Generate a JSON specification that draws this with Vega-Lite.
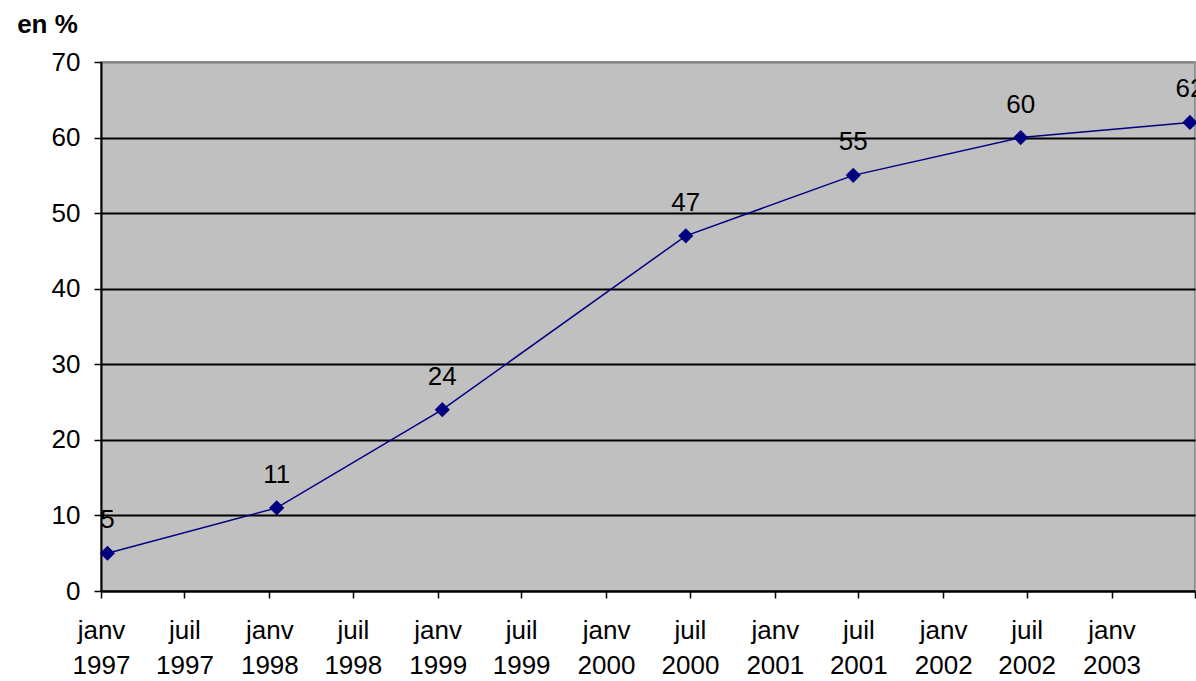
{
  "$schema": "https://vega.github.io/schema/vega-lite/v6.json",
  "width": 1094,
  "height": 529,
  "autosize": "none",
  "padding": {"left": 101, "top": 62, "right": 1, "bottom": 90},
  "background": "white",
  "config": {
    "view": {"fill": "#C0C0C0", "stroke": "#808080", "strokeWidth": 1.5},
    "font": "Liberation Sans"
  },
  "data": {
    "values": [
      {"date": "1997-01-15T00:00:00", "pct": 5},
      {"date": "1998-01-17T00:00:00", "pct": 11},
      {"date": "1999-01-11T00:00:00", "pct": 24},
      {"date": "2000-06-22T00:00:00", "pct": 47},
      {"date": "2001-06-20T00:00:00", "pct": 55},
      {"date": "2002-06-18T00:00:00", "pct": 60},
      {"date": "2003-06-20T00:00:00", "pct": 62}
    ]
  },
  "encoding": {
    "x": {
      "field": "date",
      "type": "temporal",
      "scale": {"domain": [{"year": 1997, "month": 1, "date": 1}, {"year": 2003, "month": 7, "date": 1}]},
      "axis": {
        "title": null,
        "grid": false,
        "values": [
          {"year": 1997, "month": 1, "date": 1}, {"year": 1997, "month": 7, "date": 1},
          {"year": 1998, "month": 1, "date": 1}, {"year": 1998, "month": 7, "date": 1},
          {"year": 1999, "month": 1, "date": 1}, {"year": 1999, "month": 7, "date": 1},
          {"year": 2000, "month": 1, "date": 1}, {"year": 2000, "month": 7, "date": 1},
          {"year": 2001, "month": 1, "date": 1}, {"year": 2001, "month": 7, "date": 1},
          {"year": 2002, "month": 1, "date": 1}, {"year": 2002, "month": 7, "date": 1},
          {"year": 2003, "month": 1, "date": 1}, {"year": 2003, "month": 7, "date": 1}
        ],
        "labelExpr": "datum.value > datetime(2003, 2, 1) ? '' : [month(datum.value) == 0 ? 'janv' : 'juil', '' + year(datum.value)]",
        "labelAlign": "center",
        "labelBaseline": "top",
        "labelFontSize": 26,
        "labelLineHeight": 35,
        "labelColor": "black",
        "labelPadding": 19,
        "labelOverlap": false,
        "labelFlush": false,
        "tickSize": 7,
        "tickColor": "black",
        "tickWidth": 1.5,
        "domainColor": "black",
        "domainWidth": 2
      }
    },
    "y": {
      "field": "pct",
      "type": "quantitative",
      "scale": {"domain": [0, 70], "nice": false},
      "axis": {
        "values": [0, 10, 20, 30, 40, 50, 60, 70],
        "grid": true,
        "gridColor": {"condition": {"test": "datum.value == 70", "value": "#808080"}, "value": "black"},
        "gridWidth": 1.8,
        "gridOpacity": 1,
        "tickSize": 7,
        "tickColor": "black",
        "tickWidth": 1.5,
        "domainColor": "black",
        "domainWidth": 2,
        "labelFontSize": 26,
        "labelColor": "black",
        "labelPadding": 14,
        "title": "en %",
        "titleAngle": 0,
        "titleX": -54,
        "titleY": -30,
        "titleAlign": "center",
        "titleBaseline": "alphabetic",
        "titleFontWeight": "bold",
        "titleFontSize": 26,
        "titleColor": "black"
      }
    }
  },
  "layer": [
    {"mark": {"type": "line", "color": "#000080", "strokeWidth": 1.5}},
    {"mark": {"type": "point", "shape": "diamond", "filled": true, "size": 230, "color": "#000080", "opacity": 1}},
    {
      "mark": {"type": "text", "baseline": "bottom", "dy": -20, "fontSize": 26, "color": "black"},
      "encoding": {"text": {"field": "pct", "type": "quantitative"}}
    }
  ]
}
